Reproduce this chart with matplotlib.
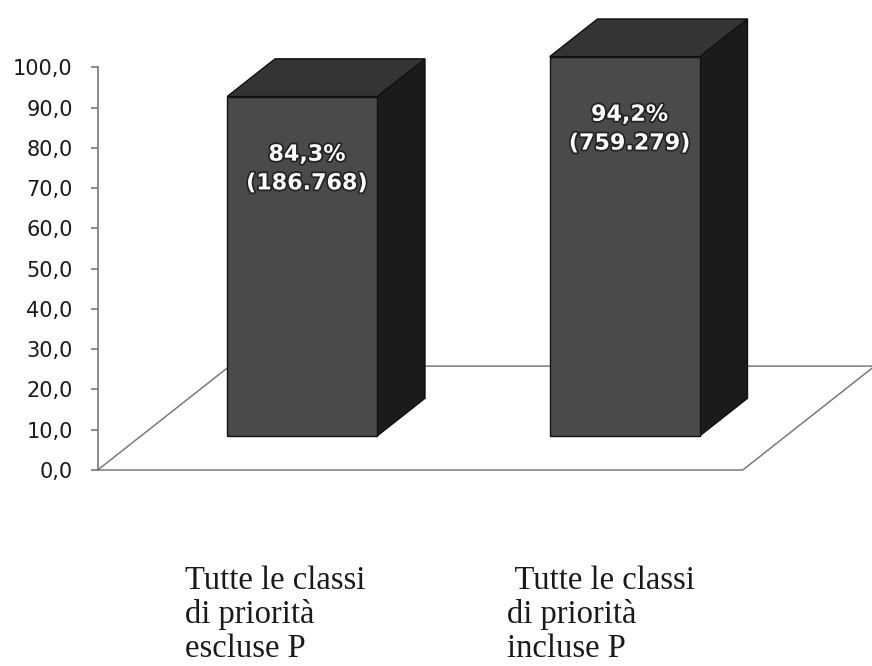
import matplotlib.pyplot as plt
import matplotlib.patheffects as pe
from matplotlib.patches import Polygon
from matplotlib.ticker import FuncFormatter, MultipleLocator

categories = ['Tutte le classi\ndi priorità\nescluse P', ' Tutte le classi\ndi priorità\nincluse P']
values = [84.3, 94.2]
pct_labels = ['84,3%', '94,2%']
counts = ['186.768', '759.279']

# fake 3d: depth z goes 0 (front of floor) -> 1 (back of floor)
DX = 0.409      # x shift per unit depth (category units)
DY = 25.8       # y shift per unit depth (value units)
W = 0.465       # bar width
Z0, Z1 = 0.327, 0.69


def proj(x, y, z):
    return (x + z * DX, y + z * DY)


fig = plt.figure(figsize=(8.72, 6.66), dpi=100)
ax = fig.add_axes([97.75 / 872, 196 / 666, (872 - 97.75) / 872, 402.7 / 666])
ax.set_xlim(-0.5, 1.9008)
ax.set_ylim(0, 100)

# floor
floor = [proj(-0.5, 0, 0), proj(1.5, 0, 0), proj(1.5, 0, 1), proj(-0.5, 0, 1)]
ax.add_patch(Polygon(floor, closed=True, facecolor='white', edgecolor='#7a7a7a',
                     lw=1.1, clip_on=False, zorder=1))

for i, v in enumerate(values):
    x0, x1 = i - W / 2, i + W / 2
    front = [proj(x0, 0, Z0), proj(x1, 0, Z0), proj(x1, v, Z0), proj(x0, v, Z0)]
    top = [proj(x0, v, Z0), proj(x1, v, Z0), proj(x1, v, Z1), proj(x0, v, Z1)]
    side = [proj(x1, 0, Z0), proj(x1, 0, Z1), proj(x1, v, Z1), proj(x1, v, Z0)]
    for pts, c in [(side, '#1b1b1b'), (top, '#343434'), (front, '#4a4a4a')]:
        ax.add_patch(Polygon(pts, closed=True, facecolor=c, edgecolor='#111111',
                             lw=1.0, clip_on=False, zorder=3))
    lx, ly = proj(i + 0.015, v - 18, Z0)
    ax.text(lx, ly, pct_labels[i] + '\n(' + counts[i] + ')', ha='center', va='center',
            fontsize=16, fontweight='bold', color='white', linespacing=1.55,
            family='DejaVu Sans', zorder=5,
            path_effects=[pe.withStroke(linewidth=2.5, foreground='#222222')])

# category labels under the floor
for i, lab in enumerate(categories):
    ax.text(i - 0.23, -23.6, lab, ha='left', va='top', fontsize=23.5,
            family='Liberation Serif', color='#1a1a1a', linespacing=1.15)

for s in ['top', 'right', 'bottom']:
    ax.spines[s].set_visible(False)
ax.spines['left'].set_color('#6e6e6e')
ax.spines['left'].set_linewidth(1.1)
ax.set_xticks([])
ax.yaxis.set_major_locator(MultipleLocator(10))
ax.yaxis.set_major_formatter(FuncFormatter(lambda v, p: f'{v:.1f}'.replace('.', ',')))
ax.tick_params(axis='y', length=5, width=1.1, color='#6e6e6e', pad=13,
               labelsize=15, labelcolor='#1a1a1a')
ax.patch.set_alpha(0)

fig.savefig('out.png', dpi=100)
